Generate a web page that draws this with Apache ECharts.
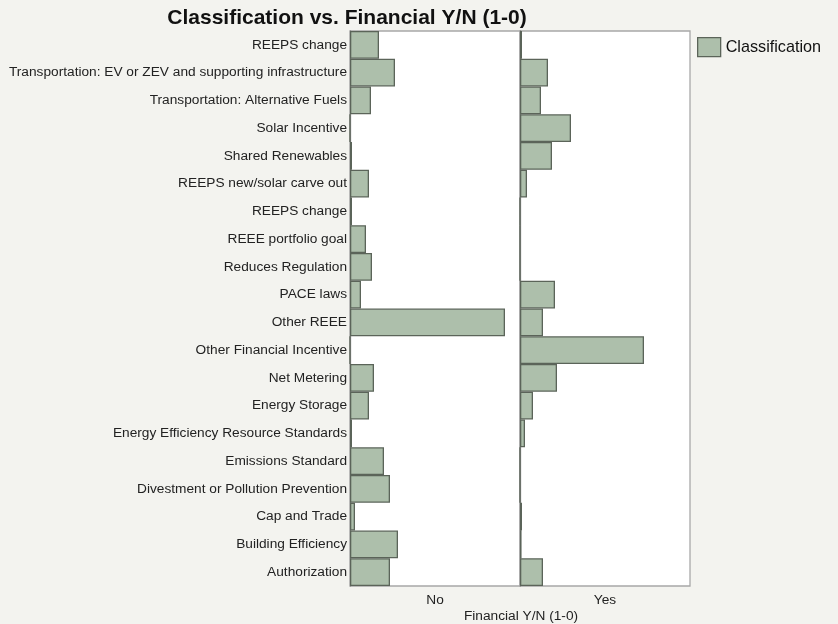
<!DOCTYPE html>
<html>
<head>
<meta charset="utf-8">
<script src="https://cdn.jsdelivr.net/npm/echarts@6/dist/echarts.min.js"></script>
<style>
  html, body { margin: 0; padding: 0; background: #f3f3ef; }
  #chart { width: 838px; height: 624px; }
</style>
</head>
<body>
<div id="chart"></div>
<script>
// categories, top to bottom
var categories = [
    'REEPS change',
    'Transportation: EV or ZEV and supporting infrastructure',
    'Transportation: Alternative Fuels',
    'Solar Incentive',
    'Shared Renewables',
    'REEPS new/solar carve out',
    'REEPS change',
    'REEE portfolio goal',
    'Reduces Regulation',
    'PACE laws',
    'Other REEE',
    'Other Financial Incentive',
    'Net Metering',
    'Energy Storage',
    'Energy Efficiency Resource Standards',
    'Emissions Standard',
    'Divestment or Pollution Prevention',
    'Cap and Trade',
    'Building Efficiency',
    'Authorization'
];
var panels = ['No', 'Yes'];
// bar lengths per panel (same scale, axis 0..170)
var noValues  = [29, 45, 21, 0, 2, 19, 2, 16, 22, 11, 155, 0, 24, 19, 2, 34, 40, 5, 48, 40];
var yesValues = [2, 28, 21, 51, 32, 7, 0, 0, 0, 35, 23, 124, 37, 13, 5, 0, 0, 2, 1.5, 23];
var axisMax = 170;

var font = 'Liberation Sans, Arial, Helvetica, sans-serif';
var fill = '#adbfab';
var edge = '#5b6459';

var chart = echarts.init(document.getElementById('chart'));

function barSeries(idx, vals) {
    return {
        name: 'Classification',
        type: 'bar',
        xAxisIndex: idx,
        yAxisIndex: idx,
        data: vals,
        barCategoryGap: 0,
        itemStyle: { color: fill, borderColor: edge, borderWidth: 1.3 },
        emphasis: { disabled: true },
        animation: false
    };
}

chart.setOption({
    backgroundColor: '#f3f3ef',
    textStyle: { fontFamily: font },
    title: [
        { text: 'Classification vs. Financial Y/N (1-0)', left: 342, top: 3, textAlign: 'center',
          textStyle: { fontSize: 21, fontWeight: 'bold', color: '#111', fontFamily: font } },
        { text: 'Financial Y/N (1-0)', left: 516, top: 604, textAlign: 'center',
          textStyle: { fontSize: 13.7, fontWeight: 'normal', color: '#222', fontFamily: font } }
    ],
    legend: {
        data: ['Classification'],
        left: 692, top: 32,
        itemWidth: 23, itemHeight: 19,
        icon: 'rect',
        itemStyle: { color: fill, borderColor: edge, borderWidth: 1.3 },
        textStyle: { fontSize: 16.2, color: '#111', fontFamily: font },
        selectedMode: false
    },
    grid: [
        { left: 350, top: 31, width: 170, height: 555, show: true, backgroundColor: '#fff',
          borderColor: '#a8a8a8', borderWidth: 1.3 },
        { left: 520, top: 31, width: 170, height: 555, show: true, backgroundColor: '#fff',
          borderColor: '#a8a8a8', borderWidth: 1.3 }
    ],
    xAxis: panels.map(function (p, i) {
        return {
            gridIndex: i, type: 'value', min: 0, max: axisMax,
            name: p, nameLocation: 'middle', nameGap: 7,
            nameTextStyle: { fontSize: 13.7, color: '#222', fontFamily: font },
            axisLine: { show: false }, axisTick: { show: false },
            axisLabel: { show: false }, splitLine: { show: false }
        };
    }),
    yAxis: panels.map(function (p, i) {
        return {
            gridIndex: i, type: 'category', data: categories, inverse: true,
            axisLine: { show: true, lineStyle: { color: '#8a8a8a', width: 1.3 } },
            axisTick: { show: false },
            axisLabel: { show: i === 0, fontSize: 13.7, color: '#222', margin: 3, fontFamily: font },
            splitLine: { show: false }
        };
    }),
    series: [barSeries(0, noValues), barSeries(1, yesValues)]
});
</script>
</body>
</html>
